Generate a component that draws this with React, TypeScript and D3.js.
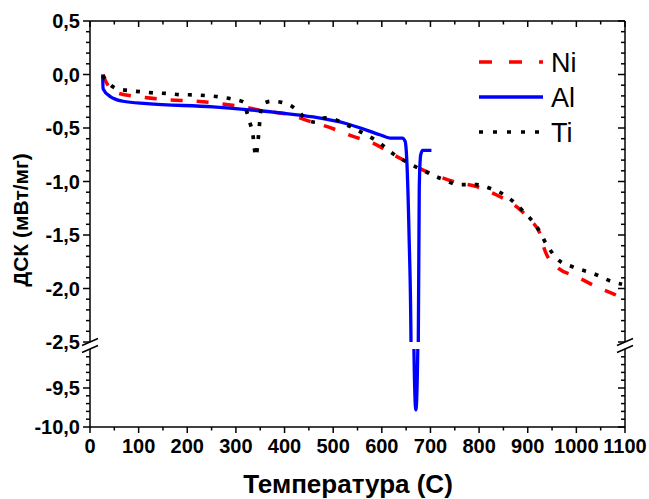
import * as React from "react";
import * as d3 from "d3";

// temperature (C) / DSC (mW/mg)
const niTemp = [27, 31, 55, 103, 158, 219, 267, 315, 363, 411, 452, 500, 541, 582, 624, 692, 747, 795, 836, 877, 905, 925, 935, 960, 1001, 1035, 1076, 1095];
const niDsc = [0, -0.05, -0.17, -0.21, -0.235, -0.25, -0.272, -0.303, -0.344, -0.375, -0.438, -0.507, -0.579, -0.641, -0.75, -0.907, -1.0, -1.048, -1.126, -1.235, -1.36, -1.485, -1.64, -1.8, -1.89, -1.97, -2.05, -2.09];

const alTemp = [26, 27, 41, 68, 117, 253, 322, 391, 459, 528, 596, 617, 642, 648, 651, 656, 660, 666, 670, 674, 675, 677, 680, 684, 702];
const alDsc = [0, -0.134, -0.204, -0.25, -0.272, -0.303, -0.328, -0.359, -0.397, -0.46, -0.563, -0.594, -0.594, -0.625, -0.77, -1.5, -2.5, -9.0, -9.78, -9.0, -2.5, -1.05, -0.75, -0.71, -0.71];

const tiTemp = [26, 41, 56, 81, 106, 132, 159, 185, 212, 238, 266, 291, 315, 322, 329, 335, 338, 341, 346, 350, 353, 374, 394, 415, 432, 445, 466, 483, 504, 524, 541, 562, 596, 617, 648, 682, 720, 761, 795, 822, 857, 891, 918, 939, 960, 994, 1035, 1076, 1094];
const tiDsc = [-0.01, -0.094, -0.134, -0.15, -0.162, -0.172, -0.178, -0.188, -0.19, -0.197, -0.209, -0.228, -0.256, -0.344, -0.453, -0.563, -0.688, -0.766, -0.594, -0.391, -0.281, -0.25, -0.26, -0.297, -0.36, -0.42, -0.447, -0.406, -0.422, -0.46, -0.5, -0.55, -0.64, -0.72, -0.81, -0.89, -0.97, -1.03, -1.03, -1.063, -1.14, -1.28, -1.42, -1.59, -1.72, -1.8, -1.86, -1.94, -1.96];

const xTicks = [0, 100, 200, 300, 400, 500, 600, 700, 800, 900, 1000, 1100];
const yUpperTicks = [0.5, 0, -0.5, -1, -1.5, -2, -2.5];
const yLowerTicks = [-9.5, -10];

const series = [
  { name: "Ni", t: niTemp, v: niDsc, color: "#ff0000", width: 3.5, dash: "12,14", legendDash: "13,17" },
  { name: "Al", t: alTemp, v: alDsc, color: "#0000ff", width: 3.3, dash: "", legendDash: "" },
  { name: "Ti", t: tiTemp, v: tiDsc, color: "#000000", width: 3.7, dash: "4,9", legendDash: "4,10" },
];

const W = 649;
const H = 499;
const left = 90;
const right = 625;
const top = 21;
const upperBottom = 342;
const lowerTop = 349;
const bottom = 427;

const fmt = (d: number) => d3.format(".1f")(d).replace(".", ",").replace("−", "-");

export default function App() {
  const x = d3.scaleLinear().domain([0, 1100]).range([left, right]);
  const yUp = d3.scaleLinear().domain([-2.5, 0.5]).range([upperBottom, top]);
  const yLo = d3.scaleLinear().domain([-10, -9]).range([bottom, lowerTop]);

  const lineFor = (y: d3.ScaleLinear<number, number>) =>
    d3.line<[number, number]>()
      .x(d => x(d[0]))
      .y(d => y(d[1]))
      .curve(d3.curveMonotoneX);

  const upMinor = d3.range(-25, 6).map(i => i / 10);
  const loMinor = d3.range(-100, -90).map(i => i / 10);
  const xMinor = d3.range(0, 1101, 50);
  const font = "'Liberation Sans', Arial, sans-serif";

  const breakMark = (cx: number) => (
    <g>
      <polygon points={`${cx - 7},${345} ${cx + 7},${339} ${cx + 7},${346} ${cx - 7},${352}`} fill="#fff" />
      <line x1={cx - 8} y1={345.5} x2={cx + 8} y2={338.5} stroke="#000" strokeWidth={1.5} />
      <line x1={cx - 8} y1={352.5} x2={cx + 8} y2={345.5} stroke="#000" strokeWidth={1.5} />
    </g>
  );

  return (
    <svg width={W} height={H} style={{ position: "absolute", left: 0, top: 0, background: "#fff" }}>
      <defs>
        <clipPath id="clipUp"><rect x={left} y={top} width={right - left} height={upperBottom - top} /></clipPath>
        <clipPath id="clipLo"><rect x={left} y={lowerTop} width={right - left} height={bottom - lowerTop} /></clipPath>
      </defs>

      {/* data lines, drawn once per axis segment */}
      {[{ y: yUp, clip: "clipUp" }, { y: yLo, clip: "clipLo" }].map((seg, si) => (
        <g key={si} clipPath={`url(#${seg.clip})`}>
          {series.map(s => (
            <path
              key={s.name}
              d={lineFor(seg.y)(s.t.map((t, i) => [t, s.v[i]] as [number, number])) || ""}
              fill="none"
              stroke={s.color}
              strokeWidth={s.width}
              strokeDasharray={s.dash || undefined}
              strokeLinejoin="round"
            />
          ))}
        </g>
      ))}

      {/* frame */}
      <g stroke="#000" strokeWidth={1.5} fill="none">
        <line x1={left} y1={top} x2={right} y2={top} />
        <line x1={left} y1={bottom} x2={right} y2={bottom} />
        <line x1={left} y1={top} x2={left} y2={upperBottom + 3} />
        <line x1={left} y1={lowerTop - 3} x2={left} y2={bottom} />
        <line x1={right} y1={top} x2={right} y2={upperBottom + 3} />
        <line x1={right} y1={lowerTop - 3} x2={right} y2={bottom} />
      </g>

      {/* ticks: outward at bottom/left, inward at top/right */}
      <g stroke="#000" strokeWidth={1.5}>
        {xMinor.map(t => {
          const major = t % 100 === 0;
          const len = major ? 6 : 3.5;
          return (
            <g key={t}>
              <line x1={x(t)} x2={x(t)} y1={bottom} y2={bottom + len} />
              <line x1={x(t)} x2={x(t)} y1={top} y2={top + len} />
            </g>
          );
        })}
        {upMinor.map(v => {
          const major = Math.round(v * 10) % 5 === 0;
          const len = major ? 7 : 4;
          return (
            <g key={"u" + v}>
              <line x1={left - len} x2={left} y1={yUp(v)} y2={yUp(v)} />
              <line x1={right - len} x2={right} y1={yUp(v)} y2={yUp(v)} />
            </g>
          );
        })}
        {loMinor.map(v => {
          const major = Math.round(v * 10) % 5 === 0;
          const len = major ? 7 : 4;
          return (
            <g key={"l" + v}>
              <line x1={left - len} x2={left} y1={yLo(v)} y2={yLo(v)} />
              <line x1={right - len} x2={right} y1={yLo(v)} y2={yLo(v)} />
            </g>
          );
        })}
      </g>

      {breakMark(left)}
      {breakMark(right)}

      {/* tick labels */}
      <g fontFamily={font} fontWeight="bold" fontSize={20} fill="#000">
        {xTicks.map(t => (
          <text key={t} x={x(t)} y={453} textAnchor="middle">{t}</text>
        ))}
        {yUpperTicks.map(v => (
          <text key={"u" + v} x={80} y={yUp(v)} dy="0.36em" textAnchor="end">{fmt(v)}</text>
        ))}
        {yLowerTicks.map(v => (
          <text key={"l" + v} x={80} y={yLo(v)} dy="0.36em" textAnchor="end">{fmt(v)}</text>
        ))}
      </g>

      {/* axis titles */}
      <text x={348} y={493} textAnchor="middle" fontFamily={font} fontWeight="bold" fontSize={26}>Температура (С)</text>
      <text transform="translate(28,220) rotate(-90)" textAnchor="middle" fontFamily={font} fontWeight="bold" fontSize={21}>ДСК (мВт/мг)</text>

      {/* legend */}
      {series.map((s, i) => {
        const ly = 62 + i * 35;
        return (
          <g key={s.name}>
            <line x1={479} x2={543} y1={ly} y2={ly} stroke={s.color} strokeWidth={s.width}
              strokeDasharray={s.legendDash || undefined} />
            <text x={551} y={ly + 10} fontFamily={font} fontSize={27}>{s.name}</text>
          </g>
        );
      })}
    </svg>
  );
}
